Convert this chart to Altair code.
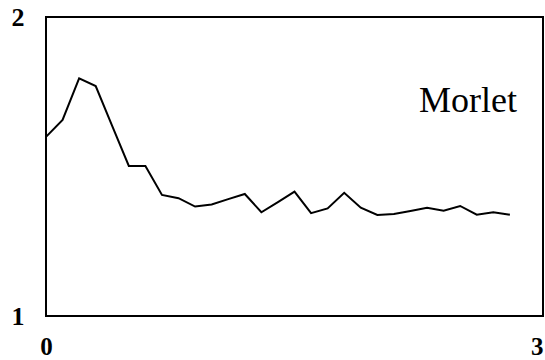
import altair as alt
import pandas as pd

x_vals = [0.0, 0.1, 0.2, 0.3, 0.4, 0.5, 0.6, 0.7, 0.8, 0.9,
          1.0, 1.1, 1.2, 1.3, 1.4, 1.5, 1.6, 1.7, 1.8, 1.9,
          2.0, 2.1, 2.2, 2.3, 2.4, 2.5, 2.6, 2.7, 2.8]
y_vals = [1.599, 1.656, 1.795, 1.769, 1.635, 1.502, 1.502, 1.405, 1.394, 1.366,
          1.373, 1.391, 1.408, 1.347, 1.381, 1.416, 1.344, 1.360, 1.412, 1.362,
          1.338, 1.341, 1.351, 1.362, 1.352, 1.368, 1.339, 1.347, 1.339]

x_ticks = [0, 3]
y_ticks = [1, 2]

label_text = ["Morlet"]
label_x = [2.547]
label_y = [1.682]

df = pd.DataFrame({"x": x_vals, "y": y_vals})
lab = pd.DataFrame({"x": label_x, "y": label_y, "t": label_text})

xs = alt.Scale(domain=[0, 3], nice=False, zero=False)
ys = alt.Scale(domain=[1, 2], nice=False, zero=False)

x_axis = alt.Axis(values=x_ticks, title=None, grid=False, domain=False, ticks=False,
                  labelFont="Liberation Serif", labelFontWeight="bold", labelFontSize=25,
                  labelColor="black", labelPadding=43, labelBaseline="bottom",
                  labelAlign={"condition": {"test": "datum.value == 3", "value": "right"}, "value": "center"},
                  labelFlush=False, labelBound=False, format="d")
y_axis = alt.Axis(values=y_ticks, title=None, grid=False, domain=False, ticks=False,
                  labelFont="Liberation Serif", labelFontWeight="bold", labelFontSize=26,
                  labelColor="black", labelPadding=22, labelFlush=False, labelBound=False,
                  format="d")

line = alt.Chart(df).mark_line(color="black", strokeWidth=2).encode(
    x=alt.X("x:Q", scale=xs, axis=x_axis),
    y=alt.Y("y:Q", scale=ys, axis=y_axis),
)

text = alt.Chart(lab).mark_text(font="Liberation Serif", fontSize=36, color="black",
                                align="center", baseline="alphabetic").encode(
    x=alt.X("x:Q", scale=xs),
    y=alt.Y("y:Q", scale=ys),
    text="t:N",
)

chart = alt.layer(line, text).properties(
    width=497, height=299,
    autosize=alt.AutoSizeParams(type="none"),
    padding={"left": 46, "top": 17, "right": 2, "bottom": 44},
    background="white",
).configure_view(stroke="black", strokeWidth=2)

chart.save("out.html", embed_options={"renderer": "svg", "actions": False})
